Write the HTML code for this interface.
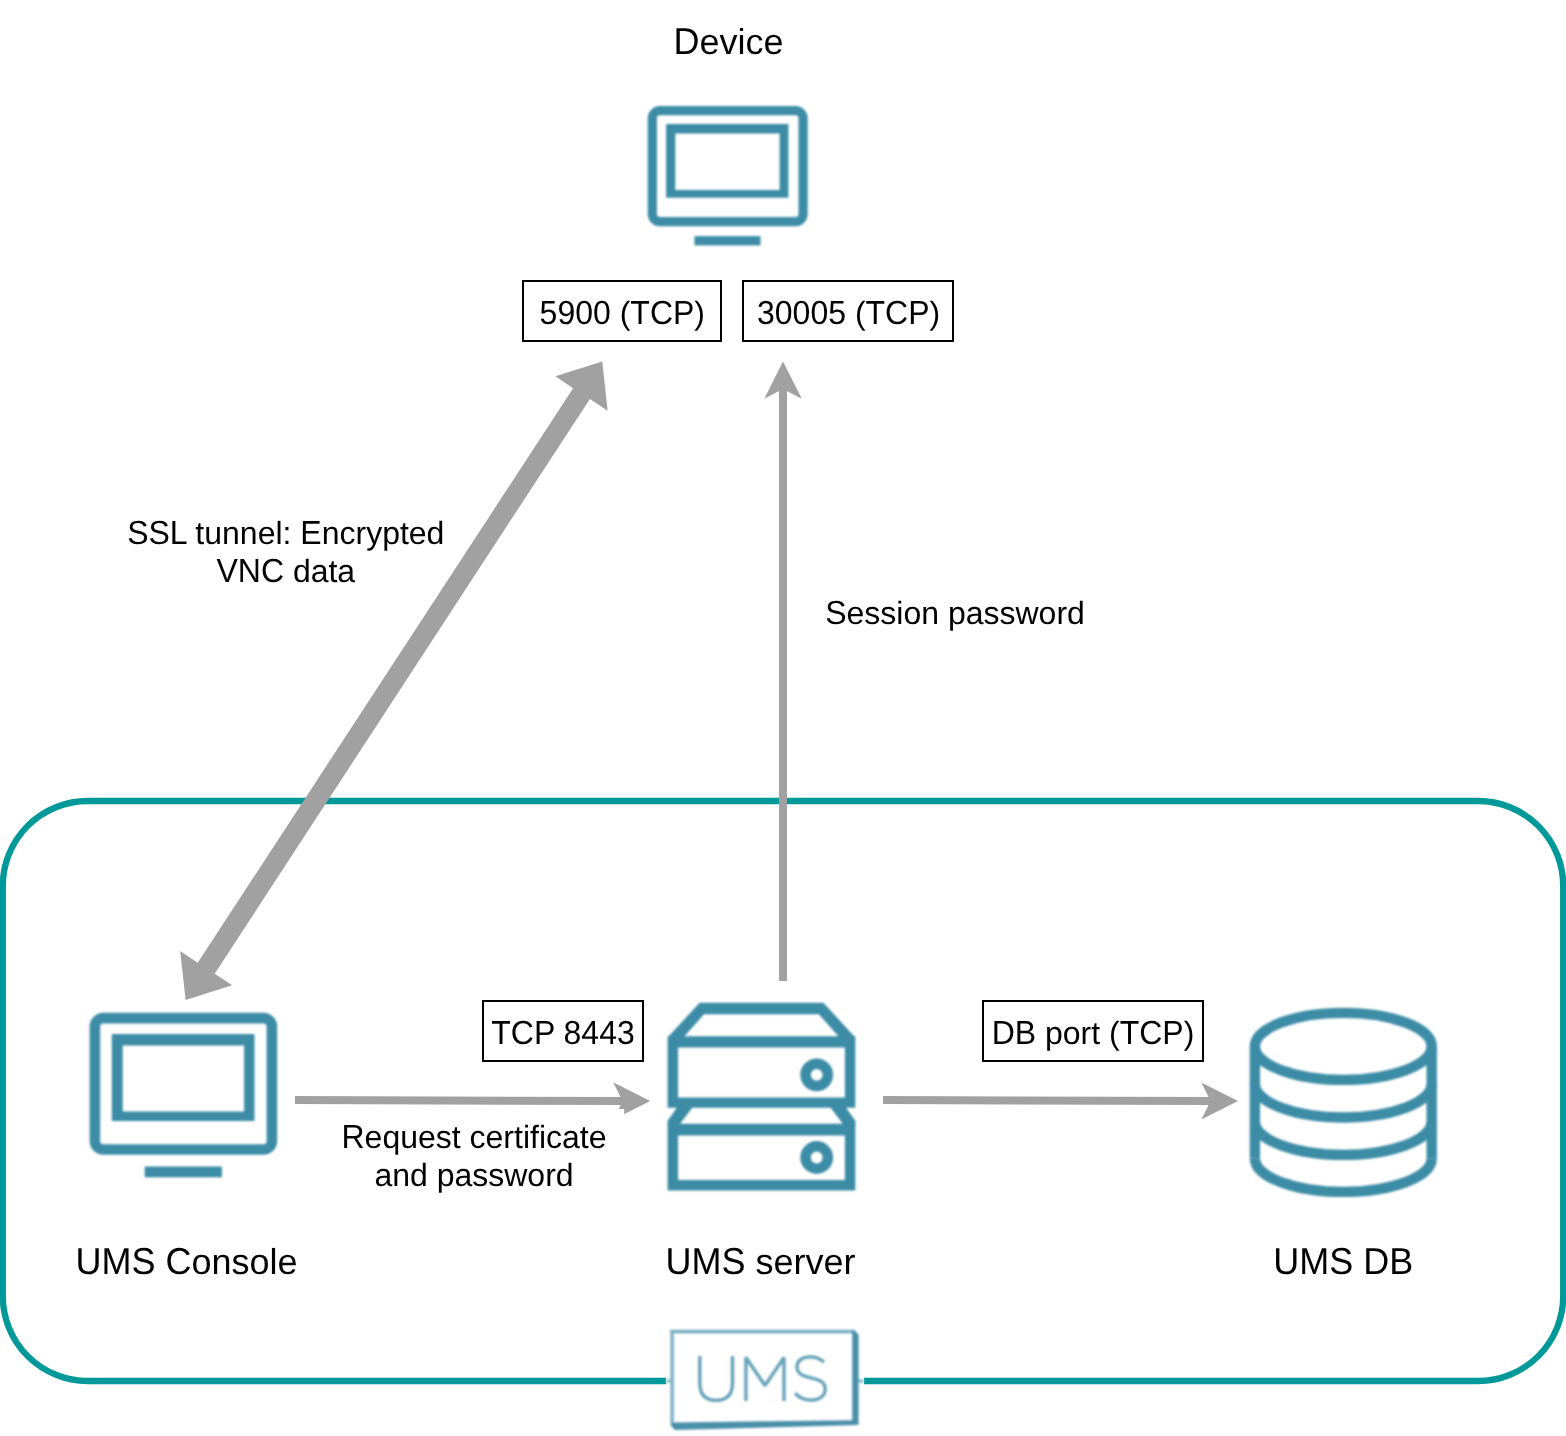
<!DOCTYPE html>
<html>
<head>
<meta charset="utf-8">
<title>UMS secure shadowing</title>
<style>
html,body{margin:0;padding:0;background:#ffffff;}
body{width:1566px;height:1436px;overflow:hidden;position:relative;font-family:"Liberation Sans",sans-serif;}
svg{position:absolute;left:0;top:0;display:block;}
text{font-family:"Liberation Sans",sans-serif;fill:#000;}
.t36{font-size:36px;}
.t32{font-size:32px;}
</style>
</head>
<body>
<svg width="1566" height="1436" viewBox="0 0 1566 1436">
  <defs><filter id="soft" x="-5%" y="-5%" width="110%" height="110%" color-interpolation-filters="sRGB"><feGaussianBlur stdDeviation="0.8"/></filter></defs>
  <rect x="0" y="0" width="1566" height="1436" fill="#ffffff"/>

  <!-- UMS container -->
  <rect x="2.8" y="801" width="1560.4" height="580" rx="85" ry="85" fill="none" stroke="#009999" stroke-width="6.3"/>

  <!-- thick double arrow (SSL tunnel) -->
  <g fill="#a1a1a1" stroke="none">
    <polygon points="602.3,361.4 555.4,376.3 573.1,388.3 197.7,962.8 180.2,951.1 185.6,999.9 232.2,985.3 214.7,973.7 589.9,398.9 607.6,410.8"/>
  </g>

  <!-- vertical arrow (session password) -->
  <g fill="#a1a1a1" stroke="none">
    <rect x="779" y="388" width="8" height="593"/>
    <polygon points="783,361.4 801.8,398.7 783,389 764.3,398.7"/>
  </g>

  <!-- horizontal arrow 1 -->
  <g fill="#a1a1a1" stroke="none">
    <polygon points="295,1096 625,1097 625,1105 295,1104"/>
    <polygon points="650.2,1101 613.1,1082.2 622.7,1101 613.1,1119.8"/>
  </g>
  <!-- label background clipping arrow head -->
  <rect x="330" y="1109" width="294.2" height="90" fill="#ffffff"/>

  <!-- horizontal arrow 2 -->
  <g fill="#a1a1a1" stroke="none">
    <polygon points="883,1096 1213,1097 1213,1105 883,1104"/>
    <polygon points="1238,1101 1201.3,1082.4 1210.6,1101 1201.3,1119.6"/>
  </g>

  <!-- Device monitor -->
  <g fill="#3c8ca6" stroke="none" filter="url(#soft)">
    <rect x="652.3" y="110.7" width="150.8" height="110.9" rx="7.5" ry="7.5" fill="none" stroke="#3c8ca6" stroke-width="9.2"/>
    <path fill-rule="evenodd" d="M666.1,124 H788.4 V197.7 H666.1 Z M675.3,133.6 V190 H779.6 V133.6 Z"/>
    <rect x="694.5" y="236.1" width="66" height="9.3"/>
  </g>

  <!-- Console monitor -->
  <g fill="#3c8ca6" stroke="none" filter="url(#soft)">
    <rect x="94.9" y="1018.1" width="177" height="131.4" rx="8.5" ry="8.5" fill="none" stroke="#3c8ca6" stroke-width="10.6"/>
    <path fill-rule="evenodd" d="M111.8,1034.1 H254.5 V1121 H111.8 Z M122.7,1045.4 V1111.5 H244.1 V1045.4 Z"/>
    <rect x="144.7" y="1166.5" width="77.2" height="10.8"/>
  </g>

  <!-- Server -->
  <g fill="#3c8ca6" stroke="none" filter="url(#soft)">
    <path fill-rule="evenodd" d="M667.6,1037.4 L699.6,1002.8 L823.4,1002.8 L855.3,1037.4 Z M683.4,1037.4 L704.0,1014.2 L818.8,1014.2 L839.5,1037.4 Z"/>
    <path fill-rule="evenodd" d="M667.6,1036.3 H855.3 V1107.7 H667.6 Z M678.1,1047.5 V1097.4 H844.9 V1047.5 Z"/>
    <path d="M676.2,1106.5 L693.2,1106.5 L679.9,1124 L679.9,1126 L667.6,1126 L667.6,1120.8 L677,1107.5 Z"/>
    <path d="M846.7,1106.5 L829.7,1106.5 L843,1124 L843,1126 L855.3,1126 L855.3,1120.8 L845.9,1107.5 Z"/>
    <path fill-rule="evenodd" d="M667.6,1123.8 H855.3 V1190.6 H667.6 Z M678.1,1135.4 V1180 H844.9 V1135.4 Z"/>
    <circle cx="816.7" cy="1074.8" r="11.15" fill="none" stroke="#3c8ca6" stroke-width="10.5"/>
    <circle cx="816.7" cy="1157.5" r="11.15" fill="none" stroke="#3c8ca6" stroke-width="10.5"/>
  </g>

  <!-- DB -->
  <g fill="none" stroke="#3c8ca6" stroke-width="10.4" filter="url(#soft)">
    <ellipse cx="1343.3" cy="1046.4" rx="88.4" ry="33.5"/>
    <path d="M1254.9,1046.4 V1158.4 M1431.7,1046.4 V1158.4"/>
    <path d="M1254.9,1084 A88.4,33.5 0 0 0 1431.7,1084"/>
    <path d="M1254.9,1121.4 A88.4,33.5 0 0 0 1431.7,1121.4"/>
    <path d="M1254.9,1158.4 A88.4,33.5 0 0 0 1431.7,1158.4"/>
  </g>

  <!-- port boxes -->
  <g fill="#ffffff" stroke="#000000" stroke-width="2">
    <rect x="523" y="281" width="198" height="60"/>
    <rect x="743" y="281" width="210" height="60"/>
    <rect x="483" y="1001" width="160" height="60"/>
    <rect x="983" y="1001" width="220" height="60"/>
  </g>

  <!-- texts -->
  <g opacity="0.999" text-rendering="geometricPrecision">
    <text class="t36" x="673.48" y="54" transform="matrix(1 0 0 1.041 0 -2.214)" xml:space="preserve">D</text>
    <text class="t36" x="699.46" y="54" xml:space="preserve">evice</text>
    <text class="t32" x="539.60" y="324" transform="matrix(1 0 0 1.041 0 -13.284)" xml:space="preserve">5900 </text>
    <text class="t32" x="619.68" y="324" xml:space="preserve">(</text>
    <text class="t32" x="630.34" y="324" transform="matrix(1 0 0 1.041 0 -13.284)" xml:space="preserve">TCP</text>
    <text class="t32" x="694.34" y="324" xml:space="preserve">)</text>
    <text class="t32" x="757.01" y="324" transform="matrix(1 0 0 1.041 0 -13.284)" xml:space="preserve">30005 </text>
    <text class="t32" x="854.88" y="324" xml:space="preserve">(</text>
    <text class="t32" x="865.54" y="324" transform="matrix(1 0 0 1.041 0 -13.284)" xml:space="preserve">TCP</text>
    <text class="t32" x="929.54" y="324" xml:space="preserve">)</text>
    <text class="t32" x="127.18" y="544" transform="matrix(1 0 0 1.041 0 -22.304)" xml:space="preserve">SSL </text>
    <text class="t32" x="195.37" y="544" xml:space="preserve">tunnel: </text>
    <text class="t32" x="300.34" y="544" transform="matrix(1 0 0 1.041 0 -22.304)" xml:space="preserve">E</text>
    <text class="t32" x="321.68" y="544" xml:space="preserve">ncrypted</text>
    <text class="t32" x="216.43" y="582" transform="matrix(1 0 0 1.041 0 -23.862)" xml:space="preserve">VNC </text>
    <text class="t32" x="292.89" y="582" xml:space="preserve">data</text>
    <text class="t32" x="825.16" y="624" transform="matrix(1 0 0 1.041 0 -25.584)" xml:space="preserve">S</text>
    <text class="t32" x="846.50" y="624" xml:space="preserve">ession password</text>
    <text class="t32" x="491.25" y="1044" transform="matrix(1 0 0 1.041 0 -42.804)" xml:space="preserve">TCP 8443</text>
    <text class="t32" x="991.66" y="1044" transform="matrix(1 0 0 1.041 0 -42.804)" xml:space="preserve">DB </text>
    <text class="t32" x="1045.00" y="1044" xml:space="preserve">port (</text>
    <text class="t32" x="1119.69" y="1044" transform="matrix(1 0 0 1.041 0 -42.804)" xml:space="preserve">TCP</text>
    <text class="t32" x="1183.69" y="1044" xml:space="preserve">)</text>
    <text class="t32" x="341.49" y="1148" transform="matrix(1 0 0 1.041 0 -47.068)" xml:space="preserve">R</text>
    <text class="t32" x="364.60" y="1148" xml:space="preserve">equest certificate</text>
    <text class="t32" x="374.38" y="1186" xml:space="preserve">and password</text>
    <text class="t36" x="75.55" y="1274" transform="matrix(1 0 0 1.041 0 -52.234)" xml:space="preserve">UMS C</text>
    <text class="t36" x="191.54" y="1274" xml:space="preserve">onsole</text>
    <text class="t36" x="665.58" y="1274" transform="matrix(1 0 0 1.041 0 -52.234)" xml:space="preserve">UMS </text>
    <text class="t36" x="755.58" y="1274" xml:space="preserve">server</text>
    <text class="t36" x="1273.19" y="1274" transform="matrix(1 0 0 1.041 0 -52.234)" xml:space="preserve">UMS DB</text>
  </g>

  <!-- UMS logo -->
  <rect x="666" y="1326" width="198" height="110" fill="#ffffff"/>
  <g filter="url(#soft)">
    <rect x="666" y="1379.3" width="5" height="3.6" fill="#9cc6d2"/>
    <rect x="858" y="1379.3" width="6" height="3.6" fill="#9cc6d2"/>
    <rect x="670.3" y="1329.8" width="183.8" height="3.5" fill="#74aabf"/>
    <rect x="670.3" y="1329.8" width="3.6" height="95" fill="#82b3c6"/>
    <polygon points="852.2,1333.3 852.2,1330.2 854.2,1329.9 858.6,1334.4 858.6,1425 852.2,1421" fill="#4a8fa9"/>
    <polygon points="673.6,1422.4 765,1421.2 852.2,1420.2 858.6,1425 674.8,1429.9 670.6,1425.2" fill="#4a8fa9"/>
    <g fill="none" stroke="#62a0b6" stroke-width="3.3" stroke-linecap="butt" stroke-linejoin="bevel">
      <path d="M699.8,1356 V1383 C699.8,1395.5 706.5,1400.3 716.1,1400.3 C725.8,1400.3 732.5,1395.5 732.5,1383 V1356"/>
      <path d="M745.9,1401 V1357.5 L765,1385.5 L784,1357.5 V1401"/>
      <path d="M824,1362.2 C820,1358.3 815,1356.8 810,1356.8 C802,1356.8 797,1361 797,1367 C797,1382 825.2,1373.5 825.2,1389 C825.2,1396 819,1400.2 811,1400.2 C804,1400.2 799,1397.5 795.2,1393.2"/>
    </g>
  </g>
</svg>
</body>
</html>
